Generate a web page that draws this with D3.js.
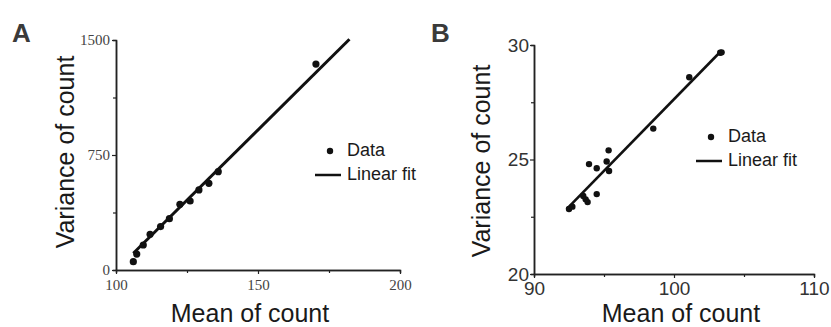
<!DOCTYPE html>
<meta charset="utf-8">
<html>
<head>
<title>Mean vs variance</title>
<script src="https://d3js.org/d3.v7.min.js"></script>
<style>
  body { margin: 0; background: #fff; }
  text { font-family: "Liberation Sans", Arial, sans-serif; }
</style>
</head>
<body>
<div id="my_dataviz"></div>

<script>

// panel A data
var meanA = [106.1, 107.3, 109.6, 112.0, 115.7, 118.8, 122.5, 126.1, 129.2, 132.7, 136.0, 170.4];
var varA  = [54, 104, 163, 233, 283, 335, 428, 450, 522, 565, 641, 1343];
var fitMeanA = [106.1, 182.2];
var fitVarA  = [109, 1505];
var xTicksA = [100, 150, 200], xMinorA = [125, 175];
var yTicksA = [0, 750, 1500], yMinorA = [375, 1125];

// panel B data
var meanB = [92.5, 92.74, 93.52, 93.69, 93.83, 93.93, 94.48, 94.48, 95.19, 95.33, 95.36, 98.52, 101.09, 103.3, 103.4];
var varB  = [22.84, 22.94, 23.41, 23.26, 23.14, 24.80, 23.49, 24.62, 24.91, 25.40, 24.50, 26.35, 28.59, 29.66, 29.68];
var fitMeanB = [92.33, 103.21];
var fitVarB  = [22.83, 29.64];
var xTicksB = [90, 100, 110], xMinorB = [95, 105];
var yTicksB = [20, 25, 30], yMinorB = [22.5, 27.5];

var svg = d3.select("#my_dataviz")
  .append("svg")
    .attr("width", 831)
    .attr("height", 327);

function panel(p) {
  var g = svg.append("g");

  var x = d3.scaleLinear().domain(p.xDomain).range(p.xRange);
  var y = d3.scaleLinear().domain(p.yDomain).range(p.yRange);

  // minor ticks
  g.append("g")
    .attr("transform", "translate(0," + p.yRange[0] + ")")
    .call(d3.axisBottom(x).tickValues(p.xMinor).tickSize(3).tickFormat(""));
  g.append("g")
    .attr("transform", "translate(" + p.xRange[0] + ",0)")
    .call(d3.axisLeft(y).tickValues(p.yMinor).tickSize(3).tickFormat(""));

  g.append("g")
    .attr("transform", "translate(0," + p.yRange[0] + ")")
    .call(d3.axisBottom(x).tickValues(p.xTicks).tickSize(4).tickPadding(p.xPad)
      .tickSizeOuter(0).tickFormat(d3.format("d")));
  g.append("g")
    .attr("transform", "translate(" + p.xRange[0] + ",0)")
    .call(d3.axisLeft(y).tickValues(p.yTicks).tickSize(4).tickPadding(p.yPad)
      .tickSizeOuter(0).tickFormat(d3.format("d")));

  g.selectAll(".domain").attr("stroke", "#222").attr("stroke-width", 1.5);
  g.selectAll(".tick line").attr("stroke", "#222").attr("stroke-width", 1.2);
  g.selectAll(".tick text")
    .style("font-family", p.tickFont)
    .style("font-size", p.tickSize + "px")
    .attr("fill", p.tickColor);

  // fit line
  var fit = p.fitX.map(function(d, i) { return [d, p.fitY[i]]; });
  g.append("path")
    .datum(fit)
    .attr("fill", "none")
    .attr("stroke", "#111")
    .attr("stroke-width", p.lineW)
    .attr("d", d3.line()
      .x(function(d) { return x(d[0]); })
      .y(function(d) { return y(d[1]); }));

  // points
  g.selectAll("dots")
    .data(p.mx)
    .enter()
    .append("circle")
      .attr("cx", function(d) { return x(d); })
      .attr("cy", function(d, i) { return y(p.vy[i]); })
      .attr("r", p.r)
      .attr("fill", "#111");

  // axis titles
  g.append("text")
    .attr("text-anchor", "middle")
    .attr("x", (p.xRange[0] + p.xRange[1]) / 2 + p.xTitleShift)
    .attr("y", 322)
    .style("font-size", "25px")
    .attr("fill", "#1a1a1a")
    .text("Mean of count");
  g.append("text")
    .attr("text-anchor", "middle")
    .attr("transform", "translate(" + p.yTitleX + "," + p.yTitleY + ") rotate(-90)")
    .style("font-size", "25px")
    .attr("fill", "#1a1a1a")
    .text("Variance of count");

  // panel letter
  g.append("text")
    .attr("x", p.letterX)
    .attr("y", 42)
    .style("font-size", "26px")
    .style("font-weight", "bold")
    .attr("fill", "#3a3a3a")
    .text(p.letter);

  // legend
  g.append("circle")
    .attr("cx", p.legX - 17).attr("cy", p.legY - 5)
    .attr("r", 3.2).attr("fill", "#111");
  g.append("text")
    .attr("x", p.legX).attr("y", p.legY)
    .style("font-size", "18px").attr("fill", "#1a1a1a")
    .text("Data");
  g.append("line")
    .attr("x1", p.legX - 32).attr("x2", p.legX - 6)
    .attr("y1", p.legY + 19).attr("y2", p.legY + 19)
    .attr("stroke", "#111").attr("stroke-width", 2.5);
  g.append("text")
    .attr("x", p.legX).attr("y", p.legY + 24)
    .style("font-size", "18px").attr("fill", "#1a1a1a")
    .text("Linear fit");
}

panel({
  letter: "A", letterX: 12,
  xDomain: [100, 200], xRange: [116, 400],
  yDomain: [0, 1500], yRange: [270, 40],
  xTicks: xTicksA, xMinor: xMinorA, yTicks: yTicksA, yMinor: yMinorA,
  xPad: 5, yPad: 2,
  tickFont: "'Liberation Serif', 'Times New Roman', serif", tickSize: 15, tickColor: "#444",
  mx: meanA, vy: varA, r: 3.6,
  fitX: fitMeanA, fitY: fitVarA, lineW: 3,
  xTitleShift: -8, yTitleX: 74, yTitleY: 152,
  legX: 347, legY: 156
});

panel({
  letter: "B", letterX: 431,
  xDomain: [90, 110], xRange: [534, 814],
  yDomain: [20, 30], yRange: [274, 45],
  xTicks: xTicksB, xMinor: xMinorB, yTicks: yTicksB, yMinor: yMinorB,
  xPad: 4, yPad: 1,
  tickFont: "'Liberation Sans', Arial, sans-serif", tickSize: 19, tickColor: "#333",
  mx: meanB, vy: varB, r: 3.2,
  fitX: fitMeanB, fitY: fitVarB, lineW: 2.6,
  xTitleShift: 7, yTitleX: 490, yTitleY: 161,
  legX: 728, legY: 142
});

</script>
</body>
</html>
